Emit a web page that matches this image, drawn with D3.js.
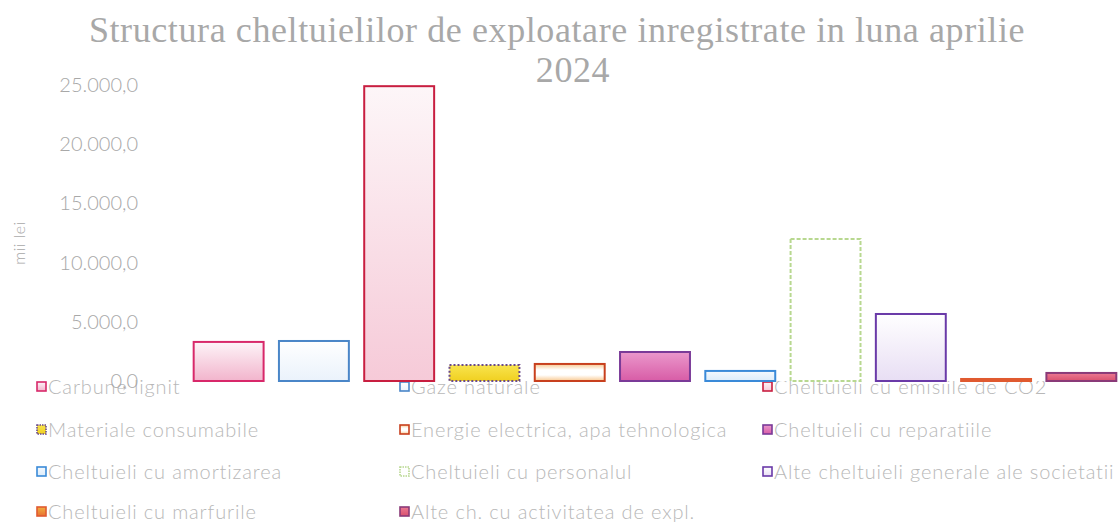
<!DOCTYPE html>
<html>
<head>
<meta charset="utf-8">
<script src="https://cdn.jsdelivr.net/npm/d3@7"></script>
<style>
  body { margin: 0; background: #fff; }
  svg { display: block; }
</style>
</head>
<body>
<svg id="chart" width="1119" height="522"></svg>
<script>
// Categories (legend order) and values in mii lei
var categories = [
    "Carbune lignit", "Gaze naturale", "Cheltuieli cu emisiile de CO2",
    "Materiale consumabile", "Energie electrica, apa tehnologica", "Cheltuieli cu reparatiile",
    "Cheltuieli cu amortizarea", "Cheltuieli cu personalul", "Alte cheltuieli generale ale societatii",
    "Cheltuieli cu marfurile", "Alte ch. cu activitatea de expl."
];
var values = [3300, 3380, 24900, 1350, 1440, 2450, 850, 12000, 5660, 170, 680];
var yTicks = [0, 5000, 10000, 15000, 20000, 25000];

// Styles for each series: outline, gradient top, gradient bottom, dash
var strokes = ["#d8286a", "#4a86c8", "#c81e40", "#6a4a8a", "#c8401e", "#7a3a98",
               "#3a8ad8", "#b8d890", "#6a3aa8", "#e05a30", "#8a3a78"];
var fillTop = ["#fdf4f8", "#ffffff", "#fdf6f8", "#f8e44e", "#f8c890", "#ea98cc",
               "#f4f9fe", "#ffffff", "#ffffff", "#f0b040", "#ec7a92"];
var fillBottom = ["#f2b4cc", "#eaf2fb", "#f6cad8", "#f0d020", "#f8c890", "#d85ca6",
                  "#dcecfa", "#ffffff", "#e8def4", "#e87030", "#d8506e"];
var dashes = [null, null, null, "2,2", null, null, null, "4,2", null, null, null];

var svg = d3.select("#chart");
var W = 1119, H = 522;

var fmt = d3.formatLocale({ decimal: ",", thousands: ".", grouping: [3], currency: ["", ""] }).format(",.1f");

// Gradients
var defs = svg.append("defs");
categories.forEach(function (c, i) {
    var g = defs.append("linearGradient")
        .attr("id", "grad" + i)
        .attr("x1", 0).attr("y1", 0).attr("x2", 0).attr("y2", 1);
    g.append("stop").attr("offset", "0%").attr("stop-color", fillTop[i]);
    if (i === 4) {
        g.append("stop").attr("offset", "35%").attr("stop-color", "#ffffff");
        g.append("stop").attr("offset", "65%").attr("stop-color", "#ffffff");
    }
    g.append("stop").attr("offset", "100%").attr("stop-color", fillBottom[i]);
});

// Scales
var x = d3.scaleBand()
    .domain(categories)
    .range([186, 1124])
    .paddingInner(0.18)
    .paddingOuter(0.09);

var y = d3.scaleLinear()
    .domain([0, 25000])
    .range([381, 85]);

// Legend (drawn first, the plot area covers its top edge)
var legendCols = [37, 400, 763];
var legendRows = [387, 430, 472, 512];
var legend = svg.append("g").attr("class", "legend");
categories.forEach(function (c, i) {
    var lx = legendCols[i % 3], ly = legendRows[Math.floor(i / 3)];
    legend.append("rect")
        .attr("x", lx).attr("y", ly - 5)
        .attr("width", 9).attr("height", 9)
        .attr("fill", "url(#grad" + i + ")")
        .attr("stroke", strokes[i])
        .attr("stroke-width", 1.6)
        .attr("stroke-dasharray", dashes[i] ? "1.5,1" : null);
    legend.append("text")
        .attr("x", lx + 11).attr("y", ly)
        .attr("dy", "0.35em")
        .attr("font-family", "Lato, 'Open Sans', sans-serif")
        .attr("font-weight", 300)
        .attr("font-size", 20)
        .attr("letter-spacing", 0.85)
        .attr("fill", "#b8b8b8")
        .text(c);
});

// Plot area background
svg.append("rect")
    .attr("x", 186).attr("y", 0)
    .attr("width", W - 186).attr("height", 381)
    .attr("fill", "#fff");

// Bars
svg.append("g").selectAll("rect")
    .data(values)
    .enter()
    .append("rect")
    .attr("x", function (d, i) { return x(categories[i]); })
    .attr("y", function (d) { return y(d); })
    .attr("width", x.bandwidth())
    .attr("height", function (d) { return y(0) - y(d); })
    .attr("fill", function (d, i) { return "url(#grad" + i + ")"; })
    .attr("stroke", function (d, i) { return strokes[i]; })
    .attr("stroke-width", 2)
    .attr("stroke-dasharray", function (d, i) { return dashes[i]; });

// Y axis
var yAxis = svg.append("g")
    .attr("transform", "translate(150,0)")
    .call(d3.axisLeft(y).tickValues(yTicks).tickSize(0).tickPadding(12).tickFormat(fmt));
yAxis.select(".domain").remove();
yAxis.selectAll("text")
    .attr("font-family", "Lato, 'Open Sans', sans-serif")
    .attr("font-weight", 300)
    .attr("font-size", 20)
    .attr("fill", "#a8a8a8");

// Axis title
svg.append("text")
    .attr("transform", "translate(25,243) rotate(-90)")
    .attr("text-anchor", "middle")
    .attr("font-family", "Lato, sans-serif")
    .attr("font-weight", 300)
    .attr("font-size", 16)
    .attr("letter-spacing", 0.5)
    .attr("fill", "#a8a8a8")
    .text("mii lei");

// Title
var title = svg.append("text")
    .attr("text-anchor", "middle")
    .attr("font-family", "'Liberation Serif', 'DejaVu Serif', serif")
    .attr("font-size", 36)
    .attr("letter-spacing", 0.6)
    .attr("fill", "#a8a8a8");
title.append("tspan").attr("x", 557).attr("y", 42)
    .text("Structura cheltuielilor de exploatare inregistrate in luna aprilie");
title.append("tspan").attr("x", 573).attr("y", 82).text("2024");
</script>
</body>
</html>
